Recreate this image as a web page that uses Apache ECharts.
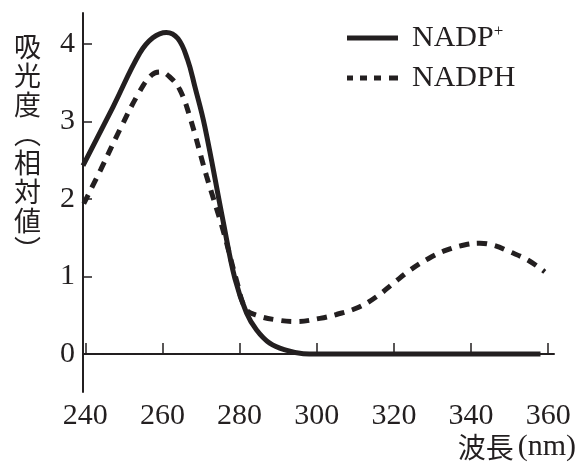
<!DOCTYPE html>
<html><head><meta charset="utf-8">
<script src="https://cdn.jsdelivr.net/npm/echarts@6/dist/echarts.min.js"></script>
<style>html,body{margin:0;padding:0;background:#fff}#c{width:582px;height:465px}</style>
</head><body><div id="c"></div>
<script>
const xNadpPlus = [239.4, 247.2, 254.1, 257.5, 261, 264, 266.5, 268.4, 271, 275.7, 278.8, 281.8, 284.4, 287.8, 292, 296.5, 300, 358];
const yNadpPlus = [2.43, 3.19, 3.88, 4.08, 4.15, 4.07, 3.80, 3.45, 2.93, 1.72, 0.97, 0.53, 0.31, 0.14, 0.05, 0.005, 0, 0];
const xNadph = [239.6, 244, 249, 254, 257.2, 259.5, 262, 264.5, 267.1, 271.4, 275.7, 279.2, 281.6, 284.4, 289.6, 294.7, 300.8, 305.1, 310.7, 315.5, 319.8, 324.1, 328.9, 333.6, 338.5, 342.3, 346, 350, 354.8, 359.1];
const yNadph = [1.94, 2.38, 2.90, 3.38, 3.60, 3.64, 3.57, 3.41, 3.06, 2.30, 1.60, 0.95, 0.58, 0.50, 0.44, 0.42, 0.46, 0.51, 0.60, 0.74, 0.91, 1.08, 1.23, 1.34, 1.41, 1.43, 1.40, 1.32, 1.21, 1.06];
const xBase = [240, 295];
const yBase = [0, 0];
const xTicks = [240, 260, 280, 300, 320, 340, 360];
const yTicks = [0, 1, 2, 3, 4];
const seriesNames = ['NADP+', 'NADPH'];

const INK = '#231f20';
const zip = (a, b) => a.map((v, i) => [v, b[i]]);
const chart = echarts.init(document.getElementById('c'));
chart.setOption({
  animation: false,
  backgroundColor: '#fff',
  grid: { left: 83, right: 28, top: 13, bottom: 73 },
  xAxis: {
    type: 'value', min: 239.4, max: 361.5,
    axisLine: { show: true, lineStyle: { color: INK, width: 2 } },
    axisTick: { show: true, inside: true, length: 11, customValues: xTicks, lineStyle: { color: INK, width: 1.5 } },
    axisLabel: { customValues: xTicks, margin: 9, color: INK, fontSize: 30, fontFamily: 'Liberation Serif' },
    splitLine: { show: false }
  },
  yAxis: {
    type: 'value', min: -0.49, max: 4.4,
    axisLine: { show: true, onZero: false, lineStyle: { color: INK, width: 2 } },
    axisTick: { show: true, inside: true, length: 9, customValues: yTicks, lineStyle: { color: INK, width: 1.5 } },
    axisLabel: { customValues: yTicks, margin: 8, color: INK, fontSize: 30, fontFamily: 'Liberation Serif' },
    splitLine: { show: false }
  },
  legend: {
    orient: 'vertical', left: 347, top: 23, padding: 0,
    itemWidth: 51, itemHeight: 30, itemGap: 10,
    data: [
      { name: seriesNames[0], icon: 'path://M0,0 L51,0 L51,5 L0,5 Z', itemStyle: { color: INK } },
      { name: seriesNames[1], icon: 'path://M0,0 h6 v5 h-6 Z M13,0 h7 v5 h-7 Z M27,0 h7 v5 h-7 Z M42,0 h9 v5 h-9 Z', itemStyle: { color: INK } }
    ],
    formatter: n => n === 'NADP+' ? 'NADP{sup|+}' : n,
    textStyle: {
      color: INK, fontSize: 30, fontFamily: 'Liberation Serif', padding: [0, 0, 0, 9],
      rich: { sup: { fontSize: 17, fontFamily: 'Liberation Serif', color: INK, padding: [0, 0, 12, 0] } }
    }
  },
  series: [
    {
      name: 'base', type: 'line', data: zip(xBase, yBase), symbol: 'none', silent: true, z: 1,
      lineStyle: { color: INK, width: 1.4, type: [2, 6] }
    },
    {
      name: seriesNames[0], type: 'line', data: zip(xNadpPlus, yNadpPlus), symbol: 'none', smooth: 0.4, z: 3,
      lineStyle: { color: INK, width: 5, cap: 'butt' }, itemStyle: { color: INK }
    },
    {
      name: seriesNames[1], type: 'line', data: zip(xNadph, yNadph), symbol: 'none', smooth: 0.4, z: 2,
      lineStyle: { color: INK, width: 5, type: [10, 8] }, itemStyle: { color: INK }
    }
  ],
  graphic: [
    {
      type: 'text', left: 14, top: 32,
      style: {
        text: '吸\n光\n度\n︵\n相\n対\n値\n︶',
        fill: INK, fontSize: 27, lineHeight: 29, fontFamily: 'Noto Sans CJK JP', align: 'left'
      }
    },
    {
      type: 'text', right: 6, top: 432,
      style: {
        text: '{a|波長}{b|(nm)}',
        rich: {
          a: { fontSize: 28, fontFamily: 'Noto Sans CJK JP', fill: INK, color: INK },
          b: { fontSize: 30, fontFamily: 'Liberation Serif', fill: INK, color: INK, padding: [0, 0, 0, 4] }
        }
      }
    }
  ]
});
</script></body></html>
